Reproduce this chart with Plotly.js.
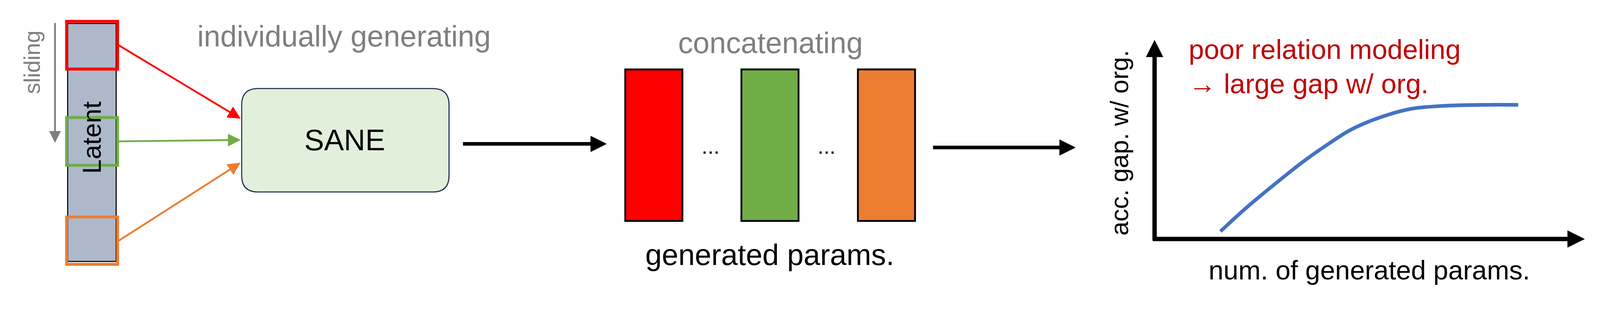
<!DOCTYPE html>
<html><head><meta charset="utf-8">
<script src="https://cdn.plot.ly/plotly-3.0.1.min.js"></script>
<style>html,body{margin:0;padding:0;background:#fff;overflow:hidden}</style>
</head><body>
<div id="chart"></div>
<script>
// window slots on the latent strip (top y, bottom y) and their colours
var slotNames = ['first', 'middle', 'last'];
var slotTop = [59, 325, 600];
var slotBottom = [191, 457, 731];
var slotColors = ['#FF0000', '#70AD47', '#ED7D31'];
// where each slot arrow lands on SANE
var sanePortY = [328, 387, 450];
// concatenated param blocks
var blockLeft = [1728, 2049, 2371];
var blockRight = [1886, 2207, 2529];
// gap curve (num. params -> acc. gap)
var curveX = [3373, 3444, 3521, 3599, 3667, 3735, 3813, 3900, 3987, 4100, 4196];
var curveY = [640, 575, 511, 449, 401, 358, 325, 301, 293, 290, 290];

var W = window.innerWidth || 4422, H = window.innerHeight || 843;
var s = Math.min(W / 4422, H / 843); // scale sizes to the real viewport
W = Math.round(4422 * s); H = Math.round(843 * s);

var font = '"Liberation Sans", Arial, sans-serif';

var shapes = [];
var annotations = [];

// latent strip
shapes.push({type: 'rect', x0: 187, x1: 321, y0: 65, y1: 723,
    fillcolor: '#ADB9CA', line: {color: '#000', width: 3 * s}, layer: 'below'});
slotNames.forEach(function (n, i) {
    shapes.push({type: 'rect', x0: 184, x1: 325, y0: slotTop[i], y1: slotBottom[i],
        line: {color: slotColors[i], width: 8 * s}});
    var ymid = i === 0 ? 124 : (i === 1 ? 391 : 667);
    annotations.push({x: 665, y: sanePortY[i], ax: 326, ay: ymid,
        xref: 'x', yref: 'y', axref: 'x', ayref: 'y', text: '',
        showarrow: true, arrowhead: 2, arrowsize: 1.4, arrowwidth: 5 * s, arrowcolor: slotColors[i]});
});

// SANE rounded box
var bx0 = 668, bx1 = 1241, by0 = 245, by1 = 531, r = 45;
shapes.push({type: 'path', fillcolor: '#E2EFDA', line: {color: '#1F3050', width: 3 * s},
    path: 'M' + (bx0 + r) + ',' + by0 + ' L' + (bx1 - r) + ',' + by0 +
        ' Q' + bx1 + ',' + by0 + ' ' + bx1 + ',' + (by0 + r) +
        ' L' + bx1 + ',' + (by1 - r) + ' Q' + bx1 + ',' + by1 + ' ' + (bx1 - r) + ',' + by1 +
        ' L' + (bx0 + r) + ',' + by1 + ' Q' + bx0 + ',' + by1 + ' ' + bx0 + ',' + (by1 - r) +
        ' L' + bx0 + ',' + (by0 + r) + ' Q' + bx0 + ',' + by0 + ' ' + (bx0 + r) + ',' + by0 + ' Z'});

// param blocks
blockLeft.forEach(function (l, i) {
    shapes.push({type: 'rect', x0: l, x1: blockRight[i], y0: 192, y1: 611,
        fillcolor: slotColors[i], line: {color: '#000', width: 5 * s}});
});

// sliding arrow
annotations.push({x: 152, y: 395, ax: 152, ay: 62, xref: 'x', yref: 'y', axref: 'x', ayref: 'y',
    text: '', showarrow: true, arrowhead: 2, arrowsize: 1.3, arrowwidth: 5 * s, arrowcolor: '#7F7F7F'});
// black flow arrows
[[1278, 1677, 398], [2577, 2973, 408]].forEach(function (a) {
    annotations.push({x: a[1], y: a[2], ax: a[0], ay: a[2], xref: 'x', yref: 'y', axref: 'x', ayref: 'y',
        text: '', showarrow: true, arrowhead: 2, arrowsize: 0.9, arrowwidth: 10 * s, arrowcolor: '#000'});
});
// plot axes
annotations.push({x: 3191, y: 110, ax: 3191, ay: 667, xref: 'x', yref: 'y', axref: 'x', ayref: 'y',
    text: '', showarrow: true, arrowhead: 2, arrowsize: 0.8, arrowwidth: 12 * s, arrowcolor: '#000'});
annotations.push({x: 4380, y: 661, ax: 3185, ay: 661, xref: 'x', yref: 'y', axref: 'x', ayref: 'y',
    text: '', showarrow: true, arrowhead: 2, arrowsize: 0.8, arrowwidth: 12 * s, arrowcolor: '#000'});

function label(x, y, text, size, color, angle, xanchor) {
    annotations.push({x: x, y: y, xref: 'x', yref: 'y', text: text, showarrow: false,
        textangle: angle || 0, xanchor: xanchor || 'center', yanchor: 'middle',
        font: {size: size * s, color: color, family: font}});
}
label(951, 100, 'individually generating', 82, '#7F7F7F');
label(2130, 118, 'concatenating', 82, '#7F7F7F');
label(2127, 704, 'generated params.', 82, '#000');
label(953, 387, 'SANE', 82, '#000');
label(89, 172, 'sliding', 62, '#7F7F7F', -90);
label(254, 380, 'Latent', 72, '#000', -90);
label(3094, 395, 'acc. gap. w/ org.', 70, '#000', -90);
label(3283, 136, 'poor relation modeling', 76, '#C00000', 0, 'left');
label(3283, 232, '\u2192 large gap w/ org.', 76, '#C00000', 0, 'left');
label(3784, 748, 'num. of generated params.', 74, '#000');
label(1964, 405, '...', 60, '#000');
label(2284, 405, '...', 60, '#000');

var trace = {x: curveX, y: curveY, mode: 'lines', type: 'scatter',
    line: {color: '#4472C4', width: 10 * s, shape: 'spline'}, hoverinfo: 'skip'};

var layout = {
    width: W, height: H, margin: {l: 0, r: 0, t: 0, b: 0},
    paper_bgcolor: '#fff', plot_bgcolor: '#fff', showlegend: false,
    xaxis: {range: [0, 4422], visible: false, fixedrange: true},
    yaxis: {range: [843, 0], visible: false, fixedrange: true},
    shapes: shapes, annotations: annotations
};
Plotly.newPlot('chart', [trace], layout, {staticPlot: true});
</script>
</body></html>
